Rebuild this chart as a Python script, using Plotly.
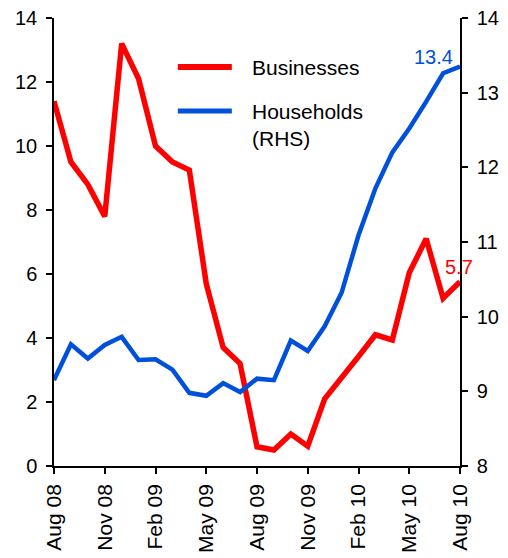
import plotly.graph_objects as go

months = ["Aug 08", "Sep 08", "Oct 08", "Nov 08", "Dec 08", "Jan 09", "Feb 09", "Mar 09",
          "Apr 09", "May 09", "Jun 09", "Jul 09", "Aug 09", "Sep 09", "Oct 09", "Nov 09",
          "Dec 09", "Jan 10", "Feb 10", "Mar 10", "Apr 10", "May 10", "Jun 10", "Jul 10", "Aug 10"]
businesses = [11.4, 9.5, 8.8, 7.8, 13.2, 12.1, 10.0, 9.5, 9.25, 5.7, 3.7, 3.2, 0.6, 0.5,
              1.0, 0.62, 2.1, 2.74, 3.42, 4.1, 3.94, 6.04, 7.1, 5.24, 5.76]
households = [9.15, 9.63, 9.44, 9.62, 9.73, 9.42, 9.43, 9.29, 8.98, 8.94, 9.11, 8.99, 9.17,
              9.15, 9.68, 9.54, 9.87, 10.32, 11.09, 11.72, 12.2, 12.52, 12.88, 13.26, 13.35]
tick_months = ["Aug 08", "Nov 08", "Feb 09", "May 09", "Aug 09", "Nov 09", "Feb 10", "May 10", "Aug 10"]
left_ticks = [0, 2, 4, 6, 8, 10, 12, 14]
right_ticks = [8, 9, 10, 11, 12, 13, 14]

RED = "#FF0000"
BLUE = "#0050DC"
FONT = "Liberation Sans, Arial, sans-serif"

fig = go.Figure()
fig.add_trace(go.Scatter(x=months, y=businesses, mode="lines", name="Businesses",
                         line=dict(color=RED, width=5.5), yaxis="y"))
fig.add_trace(go.Scatter(x=months, y=households, mode="lines", name="Households (RHS)",
                         line=dict(color=BLUE, width=4.5), yaxis="y2"))

# legend drawn manually
fig.add_shape(type="line", xref="paper", yref="paper", x0=0.305, x1=0.438, y0=0.8906, y1=0.8906,
              line=dict(color=RED, width=6))
fig.add_shape(type="line", xref="paper", yref="paper", x0=0.305, x1=0.438, y0=0.7924, y1=0.7924,
              line=dict(color=BLUE, width=5))
fig.add_annotation(xref="paper", yref="paper", x=0.4828, y=0.8906, text="Businesses",
                   showarrow=False, xanchor="left", yanchor="middle",
                   font=dict(size=21, color="black", family=FONT))
fig.add_annotation(xref="paper", yref="paper", x=0.4828, y=0.8214, text="Households<br>(RHS)",
                   showarrow=False, xanchor="left", yanchor="top", align="left",
                   font=dict(size=21, color="black", family=FONT))

# end-value labels
fig.add_annotation(x=months[-1], y=households[-1], yref="y2", text="13.4", showarrow=False,
                   xshift=-27, yshift=10, font=dict(size=20, color=BLUE, family=FONT))
fig.add_annotation(x=months[-1], y=businesses[-1], yref="y", text="5.7", showarrow=False,
                   xshift=-1, yshift=15, font=dict(size=20, color=RED, family=FONT))

axis_common = dict(showgrid=False, zeroline=False, showline=True, linecolor="black", linewidth=1.5,
                   ticks="outside", ticklen=6, tickcolor="black", tickwidth=1.5,
                   ticklabeloverflow="allow", automargin=False)

fig.update_layout(
    width=508, height=558,
    margin=dict(l=46, r=56, t=10, b=100),
    paper_bgcolor="white", plot_bgcolor="white",
    showlegend=False,
    font=dict(family=FONT, size=20, color="black"),
    xaxis=dict(type="category", categoryorder="array", categoryarray=months,
               range=[0, len(months) - 1], tickvals=tick_months, ticktext=tick_months,
               tickangle=-90, ticklabelstandoff=2,
               tickfont=dict(size=21, color="black", family=FONT), **axis_common),
    yaxis=dict(range=[0, 14], tickvals=left_ticks, ticklabelstandoff=5,
               tickfont=dict(size=20, color="black", family=FONT), **axis_common),
    yaxis2=dict(range=[8, 14], tickvals=right_ticks, overlaying="y", side="right",
                ticklabelstandoff=5,
                tickfont=dict(size=20, color="black", family=FONT), **axis_common),
)

fig.write_html("out.html")
